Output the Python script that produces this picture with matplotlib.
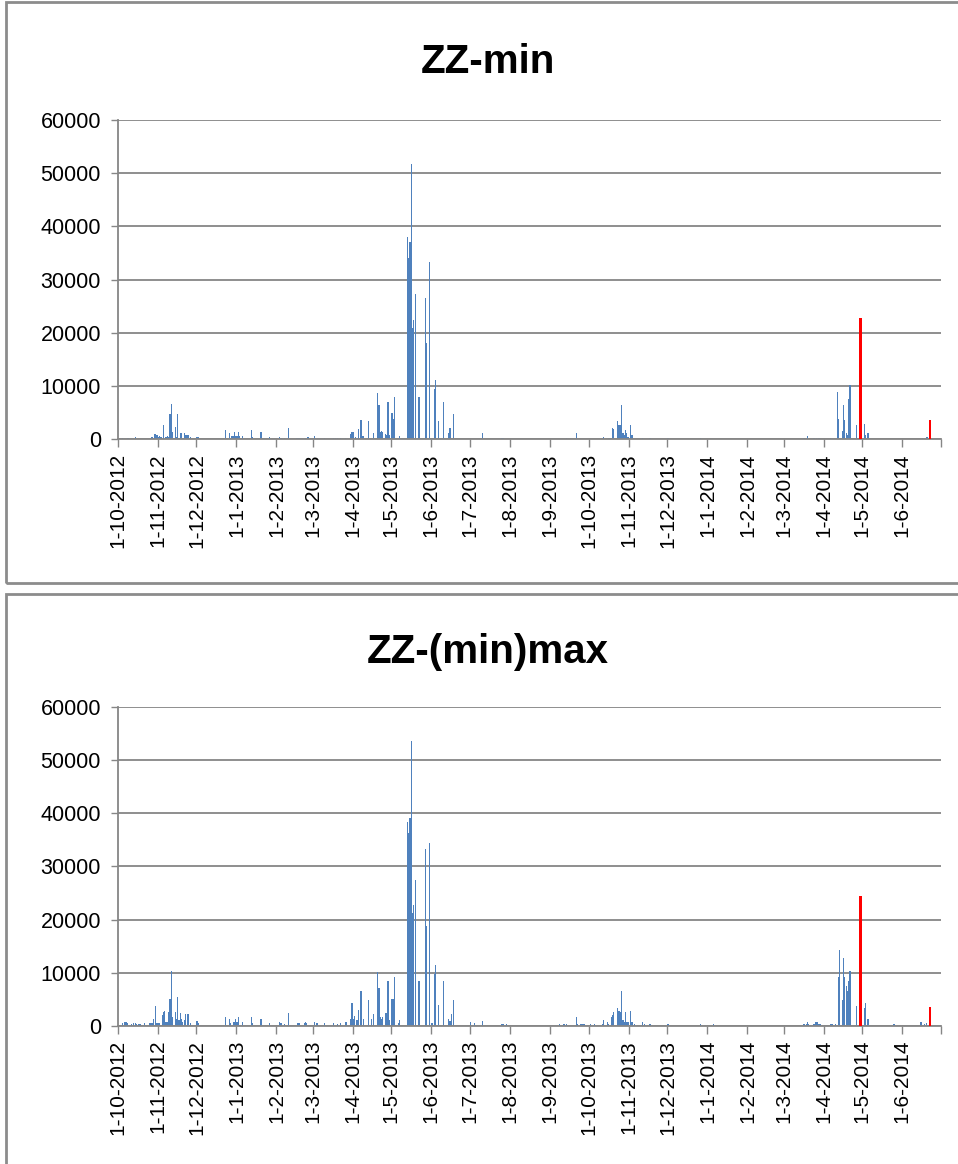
import datetime as dt
import matplotlib
matplotlib.use("Agg")
import matplotlib.pyplot as plt
import matplotlib.dates as mdates
from matplotlib.patches import Rectangle

plt.rcParams["font.family"] = ["Liberation Sans", "DejaVu Sans"]

# --- ZZ-min (daily values, only non-zero days listed) ---
min_dates = [
    "2012-10-04", "2012-10-08", "2012-10-09", "2012-10-14", "2012-10-26", "2012-10-27",
    "2012-10-29", "2012-10-30", "2012-10-31", "2012-11-01", "2012-11-02", "2012-11-03",
    "2012-11-05", "2012-11-07", "2012-11-08", "2012-11-09", "2012-11-10", "2012-11-11",
    "2012-11-12", "2012-11-14", "2012-11-15", "2012-11-16", "2012-11-17", "2012-11-18",
    "2012-11-19", "2012-11-21", "2012-11-22", "2012-11-23", "2012-11-24", "2012-11-26",
    "2012-12-01", "2012-12-02", "2012-12-23", "2012-12-26", "2012-12-27", "2012-12-28",
    "2012-12-29", "2012-12-30", "2012-12-31", "2013-01-01", "2013-01-02", "2013-01-03",
    "2013-01-05", "2013-01-12", "2013-01-13", "2013-01-19", "2013-01-20", "2013-01-26",
    "2013-02-03", "2013-02-04", "2013-02-07", "2013-02-10", "2013-02-16", "2013-02-17",
    "2013-02-18", "2013-02-23", "2013-02-25", "2013-03-02", "2013-03-03", "2013-03-10",
    "2013-03-17", "2013-03-18", "2013-03-20", "2013-03-22", "2013-03-26", "2013-03-30",
    "2013-03-31", "2013-04-01", "2013-04-03", "2013-04-04", "2013-04-05", "2013-04-07",
    "2013-04-08", "2013-04-09", "2013-04-13", "2013-04-17", "2013-04-20", "2013-04-21",
    "2013-04-22", "2013-04-23", "2013-04-24", "2013-04-26", "2013-04-27", "2013-04-28",
    "2013-04-29", "2013-05-01", "2013-05-02", "2013-05-03", "2013-05-06", "2013-05-07",
    "2013-05-13", "2013-05-14", "2013-05-15", "2013-05-16", "2013-05-17", "2013-05-18",
    "2013-05-19", "2013-05-22", "2013-05-27", "2013-05-28", "2013-05-30", "2013-06-03",
    "2013-06-04", "2013-06-06", "2013-06-10", "2013-06-14", "2013-06-15", "2013-06-18",
    "2013-07-10", "2013-07-25", "2013-07-26", "2013-09-13", "2013-09-21", "2013-10-11",
    "2013-10-12", "2013-10-16", "2013-10-17", "2013-10-19", "2013-10-20", "2013-10-23",
    "2013-10-24", "2013-10-25", "2013-10-26", "2013-10-27", "2013-10-28", "2013-10-29",
    "2013-10-30", "2013-10-31", "2013-11-02", "2013-11-03", "2013-11-11", "2013-11-17",
    "2013-12-01", "2013-12-26", "2014-03-16", "2014-03-17", "2014-03-18", "2014-03-19",
    "2014-03-24", "2014-03-26", "2014-03-28", "2014-04-06", "2014-04-11", "2014-04-12",
    "2014-04-15", "2014-04-16", "2014-04-17", "2014-04-18", "2014-04-19", "2014-04-20",
    "2014-04-21", "2014-04-26", "2014-04-30", "2014-05-02", "2014-05-03", "2014-05-05",
    "2014-06-16", "2014-06-19", "2014-06-20",
]
min_values = [
    200, 200, 200, 400, 200, 500,
    1000, 1000, 900, 500, 600, 500,
    2600, 500, 600, 500, 4800, 6600,
    1400, 2400, 400, 4800, 300, 1200,
    1200, 1200, 900, 900, 900, 400,
    400, 400, 1700, 1200, 200, 700,
    700, 1300, 700, 700, 1300, 700,
    650, 1700, 400, 1400, 1400, 400,
    400, 200, 200, 2100, 200, 200,
    200, 200, 400, 650, 200, 200,
    200, 200, 200, 200, 300, 1000,
    1300, 1300, 400, 300, 1900, 3600,
    700, 700, 3400, 1100, 8700, 6500,
    1300, 1600, 1300, 1000, 900, 7000,
    900, 5000, 3800, 7900, 300, 600,
    38000, 34000, 37000, 51800, 20900, 22400,
    27300, 8000, 26600, 18100, 33300, 9400,
    11100, 3400, 7000, 1250, 2100, 4800,
    1100, 300, 300, 300, 1250, 300,
    500, 300, 300, 2200, 2000, 3400,
    2700, 2700, 6400, 1100, 800, 1750,
    1100, 450, 2750, 800, 300, 300,
    300, 300, 250, 250, 250, 700,
    250, 250, 250, 250, 8900, 3900,
    1650, 6500, 3700, 1100, 800, 7500,
    10200, 2600, 4500, 2900, 900, 1150,
    250, 400, 400,
]
min_red_dates = ["2014-04-29", "2014-06-22"]
min_red_values = [22700, 3700]

# --- ZZ-(min)max ---
max_dates = [
    "2012-10-04", "2012-10-06", "2012-10-07", "2012-10-08", "2012-10-11", "2012-10-13",
    "2012-10-14", "2012-10-15", "2012-10-17", "2012-10-18", "2012-10-21", "2012-10-25",
    "2012-10-26", "2012-10-27", "2012-10-28", "2012-10-30", "2012-10-31", "2012-11-01",
    "2012-11-02", "2012-11-04", "2012-11-05", "2012-11-06", "2012-11-07", "2012-11-08",
    "2012-11-09", "2012-11-10", "2012-11-11", "2012-11-12", "2012-11-14", "2012-11-15",
    "2012-11-16", "2012-11-17", "2012-11-18", "2012-11-19", "2012-11-20", "2012-11-21",
    "2012-11-22", "2012-11-24", "2012-11-26", "2012-12-01", "2012-12-02", "2012-12-23",
    "2012-12-26", "2012-12-27", "2012-12-29", "2012-12-30", "2012-12-31", "2013-01-01",
    "2013-01-02", "2013-01-05", "2013-01-12", "2013-01-13", "2013-01-19", "2013-01-20",
    "2013-01-26", "2013-02-03", "2013-02-04", "2013-02-07", "2013-02-10", "2013-02-17",
    "2013-02-18", "2013-02-22", "2013-02-23", "2013-02-24", "2013-03-02", "2013-03-04",
    "2013-03-10", "2013-03-17", "2013-03-20", "2013-03-22", "2013-03-26", "2013-03-27",
    "2013-03-30", "2013-03-31", "2013-04-01", "2013-04-02", "2013-04-04", "2013-04-05",
    "2013-04-07", "2013-04-09", "2013-04-13", "2013-04-15", "2013-04-17", "2013-04-20",
    "2013-04-21", "2013-04-22", "2013-04-23", "2013-04-24", "2013-04-26", "2013-04-27",
    "2013-04-28", "2013-04-29", "2013-05-01", "2013-05-02", "2013-05-03", "2013-05-06",
    "2013-05-07", "2013-05-13", "2013-05-14", "2013-05-15", "2013-05-16", "2013-05-17",
    "2013-05-18", "2013-05-19", "2013-05-22", "2013-05-27", "2013-05-28", "2013-05-30",
    "2013-06-01", "2013-06-03", "2013-06-04", "2013-06-06", "2013-06-10", "2013-06-14",
    "2013-06-15", "2013-06-16", "2013-06-18", "2013-07-01", "2013-07-04", "2013-07-10",
    "2013-07-25", "2013-07-26", "2013-07-29", "2013-09-08", "2013-09-11", "2013-09-12",
    "2013-09-13", "2013-09-21", "2013-09-22", "2013-09-24", "2013-09-25", "2013-09-26",
    "2013-09-27", "2013-10-02", "2013-10-05", "2013-10-11", "2013-10-12", "2013-10-15",
    "2013-10-16", "2013-10-18", "2013-10-19", "2013-10-20", "2013-10-23", "2013-10-24",
    "2013-10-25", "2013-10-26", "2013-10-27", "2013-10-28", "2013-10-29", "2013-10-30",
    "2013-10-31", "2013-11-02", "2013-11-03", "2013-11-05", "2013-11-11", "2013-11-13",
    "2013-11-17", "2013-12-01", "2013-12-26", "2014-01-05", "2014-03-16", "2014-03-17",
    "2014-03-18", "2014-03-19", "2014-03-20", "2014-03-24", "2014-03-25", "2014-03-26",
    "2014-03-27", "2014-03-28", "2014-03-29", "2014-04-06", "2014-04-07", "2014-04-10",
    "2014-04-12", "2014-04-13", "2014-04-15", "2014-04-16", "2014-04-17", "2014-04-18",
    "2014-04-19", "2014-04-20", "2014-04-21", "2014-04-26", "2014-04-30", "2014-05-02",
    "2014-05-03", "2014-05-05", "2014-05-25", "2014-06-15", "2014-06-18", "2014-06-19",
]
max_values = [
    500, 800, 800, 600, 300, 500,
    500, 400, 300, 300, 500, 500,
    500, 500, 1400, 3750, 600, 600,
    600, 2100, 2700, 2900, 800, 800,
    2700, 5100, 10400, 1750, 2700, 1300,
    5400, 1100, 2400, 1400, 800, 1100,
    2300, 2300, 500, 1000, 500, 1750,
    1400, 500, 800, 800, 1400, 800,
    1750, 800, 1750, 500, 1400, 1400,
    500, 800, 500, 300, 2500, 500,
    500, 500, 800, 500, 800, 500,
    500, 500, 300, 500, 800, 800,
    1400, 4400, 1400, 1900, 1100, 3100,
    6500, 1300, 4900, 1400, 2300, 10100,
    7100, 1750, 1300, 1750, 2400, 2500,
    8500, 1100, 5100, 5100, 9300, 500,
    1100, 38300, 36200, 39000, 53500, 21300,
    22700, 27500, 8500, 33300, 18800, 34300,
    600, 9800, 11400, 4000, 8500, 1250,
    900, 2300, 4900, 750, 500, 1000,
    300, 300, 300, 300, 450, 450,
    450, 1700, 300, 300, 300, 300,
    300, 300, 450, 450, 1200, 750,
    300, 1700, 2000, 2600, 3400, 2800,
    2600, 6500, 1100, 750, 2600, 750,
    750, 2900, 750, 450, 750, 450,
    450, 450, 300, 300, 450, 450,
    450, 750, 300, 450, 750, 750,
    750, 450, 300, 300, 300, 450,
    9300, 14200, 4800, 12700, 9300, 7600,
    6500, 8400, 10400, 3800, 5700, 3300,
    4300, 1400, 300, 750, 300, 550,
]
max_red_dates = ["2014-04-29", "2014-06-22"]
max_red_values = [24500, 3600]

titles = ["ZZ-min", "ZZ-(min)max"]
y_ticks = [0, 10000, 20000, 30000, 40000, 50000, 60000]

BLUE = "#4F81BD"
RED = "#FF0000"
GRAY = "#868686"

W, H = 958, 1164
fig = plt.figure(figsize=(W / 100, H / 100), dpi=100)
fig.patch.set_facecolor("white")

month_ticks = [dt.date(2012 + (9 + i) // 12, (9 + i) % 12 + 1, 1) for i in range(22)]
month_labels = [f"{d.day}-{d.month}-{d.year}" for d in month_ticks[:-1]] + [""]

panels = [
    (min_dates, min_values, min_red_dates, min_red_values, 2, 583, 120, 439.3, 62),
    (max_dates, max_values, max_red_dates, max_red_values, 594, 1172, 706.7, 1026, 652),
]

for i, (bd, bv, rd, rv, top_px, bot_px, ytop, ybot, ttl_y) in enumerate(panels):
    # chart frame
    fig.patches.append(Rectangle((6 / W, 1 - bot_px / H), (965 - 6) / W, (bot_px - top_px) / H,
                                 transform=fig.transFigure, fill=False,
                                 edgecolor="#8c8c8c", lw=2))
    ax = fig.add_axes([117.7 / W, 1 - ybot / H, (941 - 117.7) / W, (ybot - ytop) / H])
    x_blue = mdates.datestr2num(bd) + 0.5
    x_red = mdates.datestr2num(rd) + 0.5
    ax.bar(x_blue, bv, width=0.95, color=BLUE, linewidth=0, zorder=2)
    ax.bar(x_red, rv, width=2.0, color=RED, linewidth=0, zorder=3)

    ax.set_xlim(mdates.date2num(dt.date(2012, 10, 1)), mdates.date2num(dt.date(2014, 7, 1)))
    ax.set_ylim(0, 60000)
    ax.set_yticks(y_ticks)
    ax.set_yticklabels([str(v) for v in y_ticks])
    ax.set_xticks(mdates.date2num(month_ticks))
    ax.set_xticklabels(month_labels, rotation=90)

    ax.grid(axis="y", color=GRAY, lw=1.3, zorder=0)
    ax.set_axisbelow(True)
    for s in ["top", "right"]:
        ax.spines[s].set_visible(False)
    for s in ["left", "bottom"]:
        ax.spines[s].set_color(GRAY)
        ax.spines[s].set_linewidth(1.3)
    ax.tick_params(axis="x", direction="out", length=6, width=1, color=GRAY,
                   pad=4, labelsize=15)
    ax.tick_params(axis="y", direction="out", length=5, width=1, color=GRAY,
                   pad=7, labelsize=15.5)

    fig.text(488 / W, 1 - ttl_y / H, titles[i], ha="center", va="center",
             fontsize=29, fontweight="bold")

fig.savefig("out.png", dpi=100)
